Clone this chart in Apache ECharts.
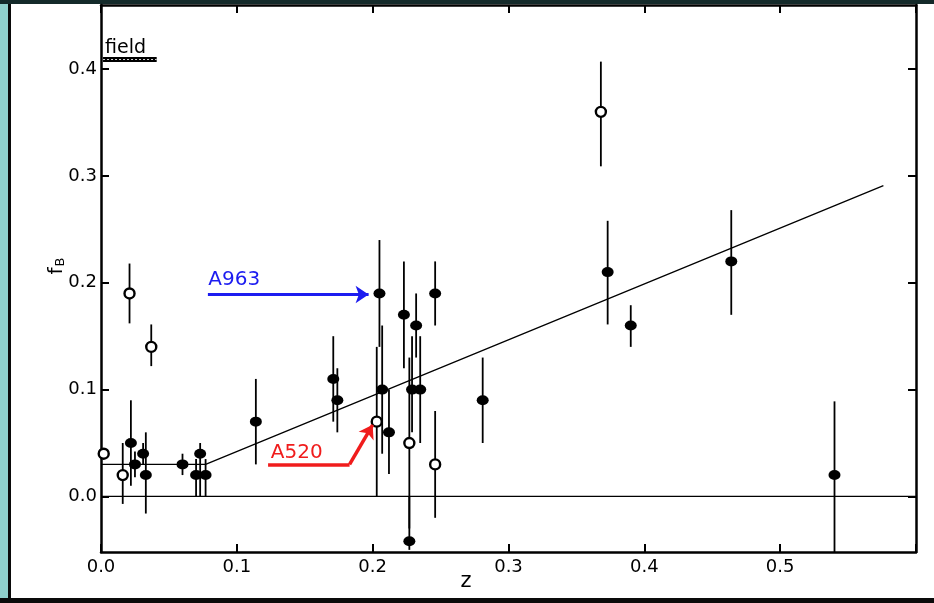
<!DOCTYPE html>
<html>
<head>
<meta charset="utf-8">
<title>Blue fraction vs redshift</title>
<script src="https://cdn.jsdelivr.net/npm/echarts@6/dist/echarts.min.js"></script>
<style>
  html, body { margin: 0; padding: 0; background: #ffffff; }
  #chart { width: 934px; height: 603px; }
</style>
</head>
<body>
<div id="chart"></div>
<script>
// Clusters with filled symbols: [z, fB, lower, upper]
var filledClusters = [
  [0.022, 0.05, 0.010, 0.090],
  [0.025, 0.03, 0.018, 0.042],
  [0.031, 0.04, 0.030, 0.050],
  [0.033, 0.02, -0.016, 0.060],
  [0.060, 0.03, 0.020, 0.040],
  [0.070, 0.02, 0.000, 0.035],
  [0.073, 0.04, 0.000, 0.050],
  [0.077, 0.02, 0.000, 0.035],
  [0.114, 0.07, 0.030, 0.110],
  [0.171, 0.11, 0.070, 0.150],
  [0.174, 0.09, 0.060, 0.120],
  [0.205, 0.19, 0.140, 0.240],
  [0.207, 0.10, 0.040, 0.160],
  [0.212, 0.06, 0.021, 0.100],
  [0.223, 0.17, 0.120, 0.220],
  [0.229, 0.10, 0.060, 0.150],
  [0.232, 0.16, 0.130, 0.190],
  [0.235, 0.10, 0.050, 0.150],
  [0.227, -0.042, -0.050, 0.000],
  [0.246, 0.19, 0.160, 0.220],
  [0.281, 0.09, 0.050, 0.130],
  [0.373, 0.21, 0.161, 0.258],
  [0.390, 0.16, 0.140, 0.179],
  [0.464, 0.22, 0.170, 0.268],
  [0.540, 0.02, -0.060, 0.089]
];

// Clusters with open symbols: [z, fB, lower, upper]
var openClusters = [
  [0.002, 0.04, 0.040, 0.040],
  [0.016, 0.02, -0.007, 0.050],
  [0.021, 0.19, 0.162, 0.218],
  [0.037, 0.14, 0.122, 0.161],
  [0.203, 0.07, 0.000, 0.140],
  [0.227, 0.05, -0.030, 0.130],
  [0.246, 0.03, -0.020, 0.080],
  [0.368, 0.36, 0.309, 0.407]
];

// Trend: constant at low z, then rising linearly
var trendLine = [[0.0, 0.03], [0.077, 0.03], [0.576, 0.291]];
var zeroLine = [[0.0, 0.0], [0.6, 0.0]];

// Field value marker
var fieldBar = [[0.0015, 0.409], [0.041, 0.409]];
var fieldLabel = [[0.003, 0.420, 'field']];

// Cluster call-outs
var a963Label = [[0.079, 0.203, 'A963']];
var a963Arrow = [[0.0787, 0.189], [0.197, 0.189]];
var a520Label = [[0.125, 0.041, 'A520']];
var a520Tail = [[0.123, 0.030], [0.183, 0.030]];
var a520Head = [[0.183, 0.030], [0.200, 0.067]];

var xTicks = [0, 0.1, 0.2, 0.3, 0.4, 0.5, 0.6];
var xTickLabels = [0, 0.1, 0.2, 0.3, 0.4, 0.5];
var yTicks = [0, 0.1, 0.2, 0.3, 0.4];

var labelFont = 'DejaVu Sans';
var blue = '#1c1cf0';
var red = '#f01c1c';

function errorBars(params, api) {
  var top = api.coord([api.value(0), api.value(3)]);
  var bot = api.coord([api.value(0), api.value(2)]);
  return {
    type: 'line',
    shape: { x1: top[0], y1: top[1], x2: bot[0], y2: bot[1] },
    style: { stroke: '#000', lineWidth: 1.8 }
  };
}

function textSeries(data, color, size) {
  return {
    type: 'scatter', data: data, symbolSize: 0, silent: true, z: 6,
    itemStyle: { opacity: 1 },
    label: {
      show: true, position: 'right', distance: 0,
      formatter: function (p) { return p.value[2]; },
      color: color, fontFamily: labelFont, fontSize: size, opacity: 1
    }
  };
}

function arrowSeries(coords, color, width, withHead) {
  return {
    type: 'lines', coordinateSystem: 'cartesian2d', silent: true, z: 6,
    data: [{ coords: coords }],
    symbol: withHead ? ['none', 'arrow'] : ['none', 'none'],
    symbolSize: 13,
    lineStyle: { color: color, width: width, opacity: 1, curveness: 0 }
  };
}

var axisCommon = {
  axisLine: { show: true, onZero: false, lineStyle: { color: '#000', width: 2.5 } },
  axisTick: { show: true, inside: true, length: 8, lineStyle: { color: '#000', width: 2 } },
  splitLine: { show: false }
};

var chart = echarts.init(document.getElementById('chart'), null, { renderer: 'canvas' });

chart.setOption({
  animation: false,
  backgroundColor: '#ffffff',
  grid: { left: 101, right: 18, top: 5, bottom: 51 },
  xAxis: [
    Object.assign({}, axisCommon, {
      type: 'value', position: 'bottom', min: 0, max: 0.6,
      axisTick: Object.assign({}, axisCommon.axisTick, { customValues: xTicks }),
      axisLabel: {
        customValues: xTickLabels, margin: 6,
        formatter: function (v) { return v.toFixed(1); },
        color: '#000', fontFamily: labelFont, fontSize: 18
      }
    }),
    Object.assign({}, axisCommon, {
      type: 'value', position: 'top', min: 0, max: 0.6,
      axisTick: Object.assign({}, axisCommon.axisTick, { customValues: xTicks }),
      axisLabel: { show: false }
    })
  ],
  yAxis: [
    Object.assign({}, axisCommon, {
      type: 'value', position: 'left', min: -0.052, max: 0.46,
      axisTick: Object.assign({}, axisCommon.axisTick, { customValues: yTicks }),
      axisLabel: {
        customValues: yTicks, margin: 4,
        formatter: function (v) { return v.toFixed(1); },
        color: '#000', fontFamily: labelFont, fontSize: 18
      }
    }),
    Object.assign({}, axisCommon, {
      type: 'value', position: 'right', min: -0.052, max: 0.46,
      axisTick: Object.assign({}, axisCommon.axisTick, { customValues: yTicks }),
      axisLabel: { show: false }
    })
  ],
  series: [
    {
      type: 'line', data: zeroLine, symbol: 'none', silent: true,
      lineStyle: { color: '#000', width: 1.3 }
    },
    {
      type: 'line', data: trendLine, symbol: 'none', silent: true,
      lineStyle: { color: '#000', width: 1.3 }
    },
    { type: 'custom', data: filledClusters, clip: true, renderItem: errorBars, silent: true, z: 3 },
    { type: 'custom', data: openClusters, clip: true, renderItem: errorBars, silent: true, z: 3 },
    {
      type: 'scatter', data: filledClusters, symbol: 'circle', symbolSize: [12, 10],
      itemStyle: { color: '#000', opacity: 1 }, z: 4
    },
    {
      type: 'scatter', data: openClusters, symbol: 'circle', symbolSize: 10,
      itemStyle: { color: '#fff', borderColor: '#000', borderWidth: 2.4, opacity: 1 }, z: 5
    },
    {
      type: 'line', data: fieldBar, symbol: 'none', silent: true, z: 4,
      lineStyle: { color: '#000', width: 5, cap: 'butt' }
    },
    {
      type: 'line', data: fieldBar, symbol: 'none', silent: true, z: 5,
      lineStyle: { color: '#d8d8d8', width: 1.2, type: [2, 2], cap: 'butt' }
    },
    textSeries(fieldLabel, '#000', 19),
    arrowSeries(a963Arrow, blue, 3, true),
    arrowSeries(a520Tail, red, 3.5, false),
    arrowSeries(a520Head, red, 3.5, true),
    textSeries(a963Label, blue, 20),
    textSeries(a520Label, red, 20)
  ],
  graphic: [
    // page frame
    { type: 'rect', shape: { x: 0, y: 0, width: 8, height: 603 }, style: { fill: '#8fd0cc' }, silent: true },
    { type: 'rect', shape: { x: 8, y: 0, width: 3, height: 603 }, style: { fill: '#0a0a0a' }, silent: true },
    { type: 'rect', shape: { x: 0, y: 0, width: 934, height: 4 }, style: { fill: '#142a2a' }, silent: true },
    { type: 'rect', shape: { x: 0, y: 598, width: 934, height: 5 }, style: { fill: '#0a0a0a' }, silent: true },
    // axis titles
    {
      type: 'text', x: 57, y: 266, rotation: Math.PI / 2, silent: true,
      style: {
        text: '{f|f}{b|B}', align: 'center', verticalAlign: 'middle',
        rich: {
          f: { fontFamily: labelFont, fontSize: 20, fill: '#000' },
          b: { fontFamily: labelFont, fontSize: 13, fill: '#000', padding: [8, 0, 0, 1] }
        }
      }
    },
    {
      type: 'text', x: 466, y: 582, silent: true,
      style: { text: 'z', fontFamily: labelFont, fontSize: 21, fill: '#000', align: 'center', verticalAlign: 'middle' }
    }
  ]
});
</script>
</body>
</html>
